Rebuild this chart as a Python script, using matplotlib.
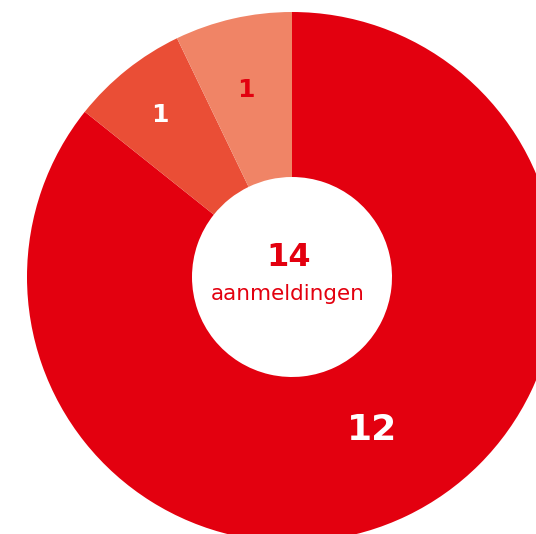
import matplotlib.pyplot as plt
import numpy as np

# aanmeldingen per categorie
values = [12, 1, 1]
colors = ["#E3000F", "#EA4E36", "#F08466"]
label_colors = ["white", "white", "#E3000F"]
label_radius = [173, 207, 192]
label_size = [26, 18, 18]
total_label = "aanmeldingen"

W, H = 536, 534
fig = plt.figure(figsize=(W / 100, H / 100), dpi=100)
ax = fig.add_axes([0, 0, 1, 1])

cx, cy = 292, H - 277
R, r_in = 265, 100

wedges, _ = ax.pie(values, colors=colors, startangle=90, counterclock=False,
                   center=(cx, cy), radius=R,
                   wedgeprops=dict(width=R - r_in, linewidth=0))

for i, (w, v, c, rr, fs) in enumerate(zip(wedges, values, label_colors, label_radius, label_size)):
    a = np.deg2rad((w.theta1 + w.theta2) / 2)
    dx, dy = (5, 3) if i == 0 else (-3, 0)
    ax.text(cx + rr * np.cos(a) + dx, cy + rr * np.sin(a) + dy, str(v), color=c,
            fontsize=fs, fontweight="bold", family="DejaVu Sans",
            ha="center", va="center")

ax.text(cx - 3, cy + 20, str(sum(values)), color="#E3000F", fontsize=23,
        fontweight="bold", family="DejaVu Sans", ha="center", va="center")
ax.text(cx - 4, cy - 17, total_label, color="#E3000F", fontsize=15.5,
        family="DejaVu Sans", ha="center", va="center")

ax.set_xlim(0, W)
ax.set_ylim(0, H)
ax.set_aspect("equal")
ax.axis("off")

plt.savefig("out.png", dpi=100)
